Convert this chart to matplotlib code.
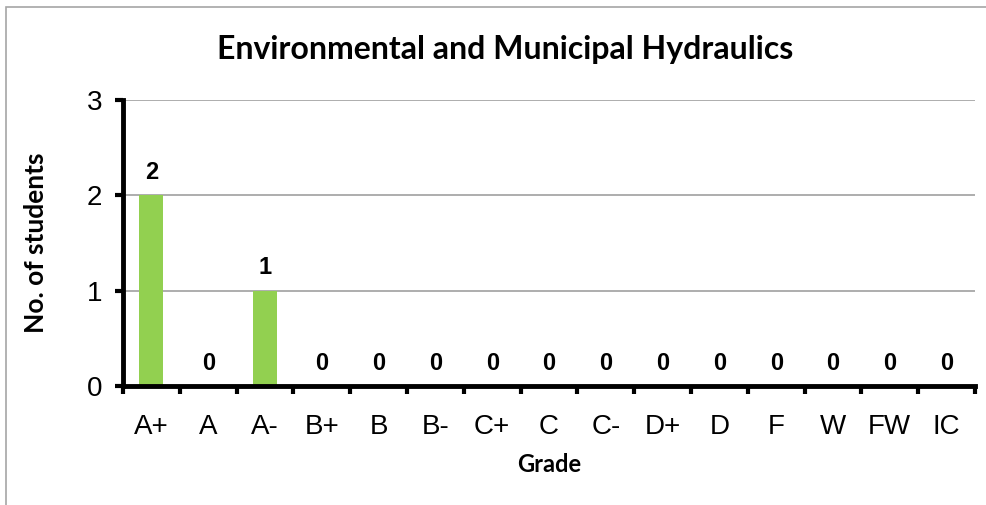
import matplotlib.pyplot as plt
from matplotlib.patches import Rectangle

# ------------------ Data ------------------
grades = ["A+", "A", "A-", "B+", "B", "B-", "C+", "C", "C-", "D+", "D", "F", "W", "FW", "IC"]
students = [2, 0, 1, 0, 0, 0, 0, 0, 0, 0, 0, 0, 0, 0, 0]

title = "Environmental and Municipal Hydraulics"
bar_color = "#92D050"

fig = plt.figure(figsize=(9.87, 5.05), dpi=100)
W, H = 987, 505
ax = fig.add_axes([123 / W, 1 - 386 / H, (975 - 123) / W, (386 - 100) / H])

x = list(range(len(grades)))
ax.bar(x, students, width=0.42, color=bar_color, zorder=3)

for xi, v in zip(x, students):
    ax.text(xi, v + 0.12, str(v), ha="center", va="bottom",
            fontsize=17, fontweight="bold", family="Liberation Sans")

ax.set_xlim(-0.5, len(grades) - 0.5)
ax.set_ylim(0, 3)
ax.set_yticks([0, 1, 2, 3])
ax.yaxis.grid(True, color="#A0A0A0", linewidth=1.2, zorder=0)

# category ticks at boundaries, labels at centres
ax.set_xticks([i - 0.5 for i in range(len(grades) + 1)])
ax.set_xticklabels([])
ax.set_xticks(x, minor=True)
ax.set_xticklabels(grades, minor=True, fontsize=20, family="Liberation Sans")
ax.tick_params(axis="x", which="minor", length=0, pad=20)
ax.tick_params(axis="x", which="major", length=6, width=3, direction="out")
ax.tick_params(axis="y", length=6, width=3, direction="out", labelsize=20, pad=9)
for t in ax.get_yticklabels():
    t.set_family("Liberation Sans")

for s in ["top", "right"]:
    ax.spines[s].set_visible(False)
for s in ["left", "bottom"]:
    ax.spines[s].set_linewidth(3.5)
    ax.spines[s].set_zorder(4)

fig.text(549 / W, 1 - 465 / H, "Grade", ha="center", va="center",
         fontsize=17, fontweight="bold", family="Lato")
fig.text(36 / W, 1 - 243 / H, "No. of students", ha="center", va="center", rotation=90,
         fontsize=19, fontweight="bold", family="Lato")
fig.text(505 / W, 1 - 50 / H, title, ha="center", va="center",
         fontsize=23, fontweight="bold", family="Lato")

# outer chart border (cropped at right and bottom)
fig.patches.append(Rectangle((6 / W, -0.1), 1.2, 1 - 7 / H + 0.1, transform=fig.transFigure,
                             fill=False, edgecolor="#A6A6A6", linewidth=1.2))

fig.savefig("out.png", dpi=100)
